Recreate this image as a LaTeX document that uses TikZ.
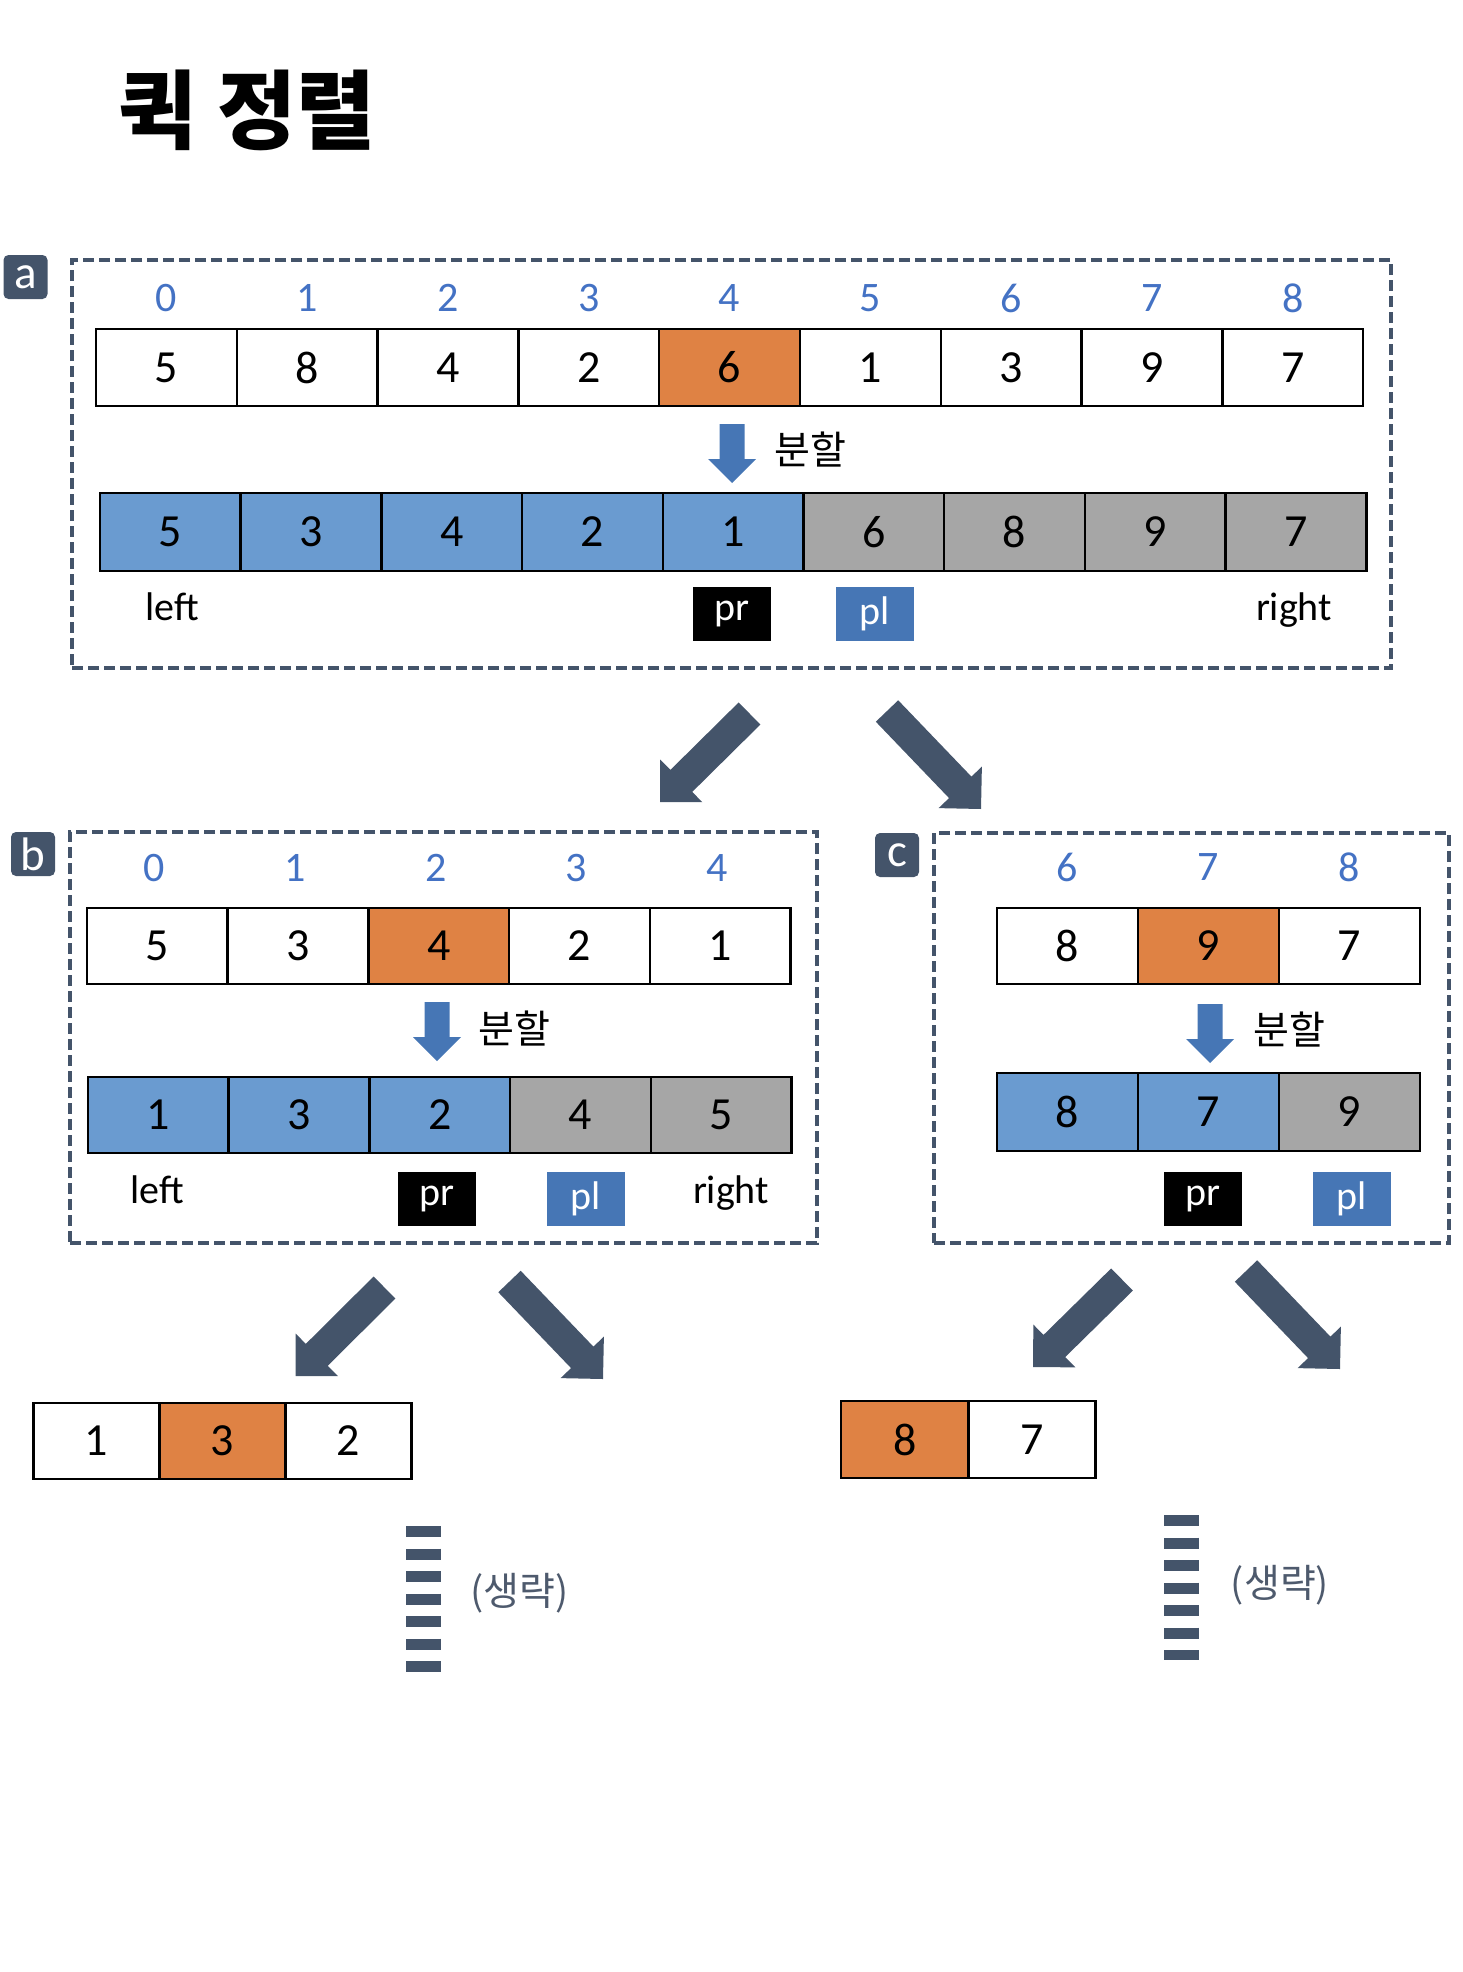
\documentclass[tikz,border=0pt]{standalone}
\usepackage{fontspec}
\setmainfont{Carlito}
\newfontfamily\kr{Noto Sans CJK KR}
\usetikzlibrary{calc}
\definecolor{slate}{HTML}{44546A}
\definecolor{idxblue}{HTML}{4472C4}
\definecolor{arrblue}{HTML}{4676B5}
\definecolor{lblue}{HTML}{6A9BD0}
\definecolor{lgray}{HTML}{A6A6A6}
\definecolor{piv}{HTML}{DF8244}
\definecolor{omitc}{HTML}{4E5A6D}

% #1 colour, #2 start coordinate, #3 tip coordinate, #4 half shaft, #5 half head, #6 head length
\newcommand{\blockarrow}[6]{%
  \coordinate (#2-#3-b) at ($(#3)!#6!(#2)$);
  \fill[#1] ($(#2)!#4!90:(#3)$) -- ($(#2-#3-b)!#4!90:(#3)$) -- ($(#2-#3-b)!#5!90:(#3)$)
    -- (#3) -- ($(#2-#3-b)!#5!-90:(#3)$) -- ($(#2-#3-b)!#4!-90:(#3)$)
    -- ($(#2)!#4!-90:(#3)$) -- cycle;}

% #1 prefix, #2 left x, #3 centre y, #4 cell width, #5 cell height, #6 value/fill list
\newcommand{\cellrow}[6]{%
  \foreach \v/\f [count=\i from 0] in {#6}
    \node[arrcell,fill=\f,minimum width=#4pt,minimum height=#5pt] (#1-\i) at ({#2+(\i+0.5)*#4},#3) {\v};}

\begin{document}
\begin{tikzpicture}[x=1pt,y=-1pt,
  arrcell/.style={draw=black,line width=2.5pt,inner sep=0pt,font=\fontsize{46}{50}\selectfont},
  idx/.style={text=idxblue,inner sep=0pt,font=\fontsize{42}{46}\selectfont},
  lbl/.style={inner sep=0pt,font=\fontsize{40}{44}\selectfont},
  ptr/.style={text=white,inner sep=0pt,minimum width=78pt,minimum height=54pt,font=\fontsize{40}{44}\selectfont},
  dashbox/.style={draw=slate,line width=3.5pt,dash pattern=on 11pt off 5pt,inner sep=0pt},
  badge/.style={fill=slate,rounded corners=5pt,minimum size=44pt,inner sep=0pt,text=white,font=\fontsize{47}{50}\selectfont},
  splitlbl/.style={anchor=west,inner sep=0pt,font=\kr\fontsize{39}{43}\selectfont},
  omitlbl/.style={inner sep=0pt,text=omitc,font=\kr\fontsize{39}{43}\selectfont},
  dashstack/.style={draw=slate,line width=35pt,dash pattern=on 11pt off 11.5pt}
]
\useasboundingbox (0,0) rectangle (1462,1972);

% title
\node[anchor=west,inner sep=0pt,font=\kr\bfseries\fontsize{86}{90}\selectfont] (title) at (118,110) {퀵 정렬};

% dashed frames and badges
\node[dashbox,minimum width=1319pt,minimum height=408pt] (boxa) at (731.5,464) {};
\node[dashbox,minimum width=747pt,minimum height=411pt] (boxb) at (443.5,1037.5) {};
\node[dashbox,minimum width=515pt,minimum height=410pt] (boxc) at (1191.5,1038) {};
\node[badge] (bada) at (25.5,277) {a};
\node[badge] (badb) at (33,854) {b};
\node[badge] (badc) at (897,855) {c};

% ---- box a ----
\foreach \i in {0,...,8} \node[idx] (ai-\i) at ({96+(\i+0.5)*140.8},298) {\i};
\cellrow{a1}{96}{367.5}{140.8}{77}{5/white,8/white,4/white,2/white,6/piv,1/white,3/white,9/white,7/white}
\cellrow{a2}{100}{532}{140.7}{78}{5/lblue,3/lblue,4/lblue,2/lblue,1/lblue,6/lgray,8/lgray,9/lgray,7/lgray}
\coordinate (as) at (732,424);
\coordinate (ae) at (732,483);
\blockarrow{arrblue}{as}{ae}{12.5pt}{24pt}{24pt}
\node[splitlbl] (asplit) at (774,450) {분할};
\node[lbl,anchor=base] (aleft) at (172,620) {left};
\node[lbl,anchor=base] (aright) at (1294,620) {right};
\node[ptr,fill=black] (apr) at (732,614) {pr};
\node[ptr,fill=arrblue] (apl) at (874.5,614) {pl};

% ---- box b ----
\foreach \i in {0,...,4} \node[idx] (bi-\i) at ({84+(\i+0.5)*140.7},868) {\i};
\cellrow{b1}{87}{946}{140.7}{76}{5/white,3/white,4/piv,2/white,1/white}
\cellrow{b2}{88}{1115}{140.7}{76}{1/lblue,3/lblue,2/lblue,4/lgray,5/lgray}
\coordinate (bs) at (437,1002);
\coordinate (be) at (437,1061);
\blockarrow{arrblue}{bs}{be}{12.5pt}{24pt}{24pt}
\node[splitlbl] (bsplit) at (478,1028.5) {분할};
\node[lbl,anchor=base] (bleft) at (157,1203) {left};
\node[lbl,anchor=base] (bright) at (731,1203) {right};
\node[ptr,fill=black] (bpr) at (437,1199) {pr};
\node[ptr,fill=arrblue] (bpl) at (585.5,1199) {pl};

% ---- box c ----
\foreach \i/\n in {0/6,1/7,2/8} \node[idx] (ci-\i) at ({997+(\i+0.5)*141},867) {\n};
\cellrow{c1}{997}{946}{141}{76}{8/white,9/piv,7/white}
\cellrow{c2}{997}{1112}{141}{78}{8/lblue,7/lblue,9/lgray}
\coordinate (cs) at (1210,1004);
\coordinate (ce) at (1210,1063);
\blockarrow{arrblue}{cs}{ce}{12.5pt}{24pt}{24pt}
\node[splitlbl] (csplit) at (1253,1030) {분할};
\node[ptr,fill=black] (cpr) at (1203,1198.5) {pr};
\node[ptr,fill=arrblue] (cpl) at (1352,1198.5) {pl};

% ---- big arrows a -> b, a -> c ----
\coordinate (abs) at (749.5,713.5);
\coordinate (abe) at (660,802);
\coordinate (acs) at (887,711);
\coordinate (ace) at (981,809);
\blockarrow{slate}{abs}{abe}{15.5pt}{30pt}{30pt}
\blockarrow{slate}{acs}{ace}{15.5pt}{30pt}{30pt}

% ---- arrows from b ----
\coordinate (bls) at (384.5,1287.5);
\coordinate (ble) at (295.5,1376);
\coordinate (brs) at (509.5,1281.5);
\coordinate (bre) at (603,1379);
\blockarrow{slate}{bls}{ble}{15.5pt}{30pt}{30pt}
\blockarrow{slate}{brs}{bre}{15.5pt}{30pt}{30pt}

% ---- arrows from c ----
\coordinate (cls) at (1122,1279.5);
\coordinate (cle) at (1033,1367);
\coordinate (crs) at (1246,1271);
\coordinate (cre) at (1340,1369);
\blockarrow{slate}{cls}{cle}{15.5pt}{30pt}{30pt}
\blockarrow{slate}{crs}{cre}{15.5pt}{30pt}{30pt}

% ---- child arrays ----
\cellrow{d1}{33.5}{1441}{126}{76}{1/white,3/piv,2/white}
\cellrow{e1}{841}{1439.5}{127.3}{77}{8/piv,7/white}

% ---- omitted ----
\coordinate (bdt) at (423.5,1526);
\coordinate (bdb) at (423.5,1672);
\draw[dashstack] (bdt) -- (bdb);
\node[omitlbl] (bomit) at (519.5,1593) {(생략)};
\coordinate (cdt) at (1181.5,1515);
\coordinate (cdb) at (1181.5,1660);
\draw[dashstack] (cdt) -- (cdb);
\node[omitlbl] (comit) at (1280,1585) {(생략)};
\end{tikzpicture}
\end{document}
